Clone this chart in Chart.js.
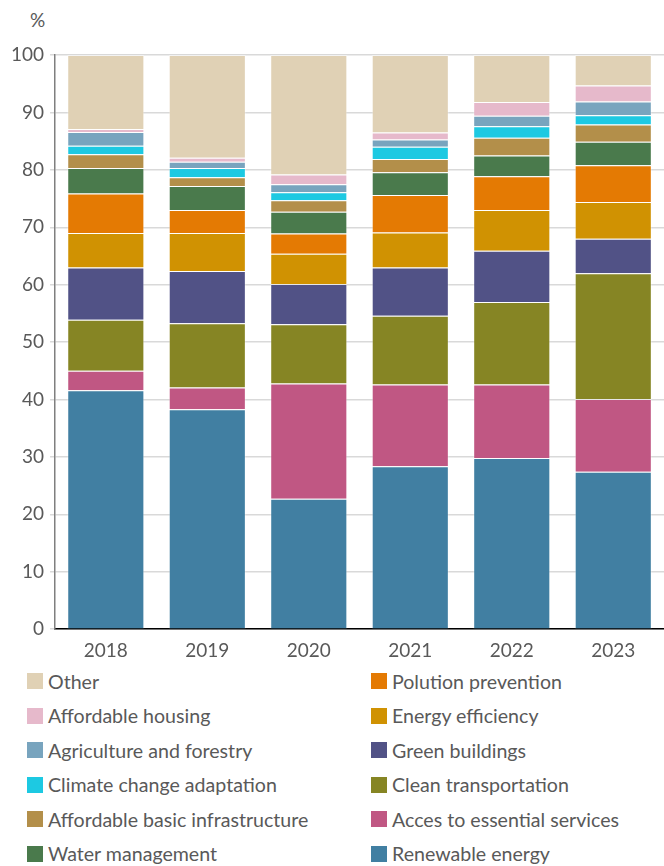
<!DOCTYPE html>
<html>
<head>
<meta charset="utf-8">
<script src="https://cdn.jsdelivr.net/npm/chart.js@4.4.1/dist/chart.umd.min.js"></script>
<style>
  body { margin: 0; background: #fff; font-family: Lato, "Open Sans", sans-serif; color: #595959; }
  #wrap { position: relative; width: 664px; height: 866px; overflow: hidden; }
  #chartBox { position: absolute; left: 0; top: 0; width: 664px; height: 664px; }
  #unit { position: absolute; left: 30px; top: 8px; font-size: 19px; }
  #legend { position: absolute; left: 27px; top: 664px; width: 637px; display: grid;
    grid-template-columns: 344px 293px; grid-auto-flow: column; grid-template-rows: repeat(6, 34.5px); }
  .item { display: flex; align-items: center; font-size: 19.6px; white-space: nowrap; }
  .box { width: 16px; height: 16px; margin-right: 5px; flex: none; }
</style>
</head>
<body>
<div id="wrap">
  <div id="unit">%</div>
  <div id="chartBox"><canvas id="c"></canvas></div>
  <div id="legend"></div>
</div>
<script>
const years = ['2018', '2019', '2020', '2021', '2022', '2023'];

// shares in %, bottom of the stack first
const renewable = [41.6, 38.3, 22.7, 28.4, 29.8, 27.4];
const essential = [3.4, 3.8, 20.1, 14.2, 12.8, 12.7];
const transport = [8.9, 11.2, 10.3, 12.0, 14.4, 21.9];
const buildings = [9.1, 9.1, 7.0, 8.4, 8.9, 6.0];
const efficiency = [6.0, 6.6, 5.3, 6.1, 7.1, 6.4];
const pollution = [6.9, 4.0, 3.5, 6.5, 5.9, 6.4];
const water = [4.4, 4.2, 3.8, 4.0, 3.6, 4.1];
const infra = [2.4, 1.5, 2.0, 2.3, 3.1, 3.0];
const climate = [1.5, 1.6, 1.4, 2.1, 2.0, 1.6];
const agriculture = [2.4, 1.1, 1.4, 1.3, 1.8, 2.4];
const housing = [0.5, 0.7, 1.7, 1.2, 2.4, 2.8];
const other = [12.9, 17.9, 20.8, 13.5, 8.2, 5.3];

const yTicks = [0, 10, 20, 30, 40, 50, 60, 70, 80, 90, 100];

const series = [
  { label: 'Renewable energy', data: renewable, color: '#417fa2' },
  { label: 'Acces to essential services', data: essential, color: '#c05783' },
  { label: 'Clean transportation', data: transport, color: '#868524' },
  { label: 'Green buildings', data: buildings, color: '#515286' },
  { label: 'Energy efficiency', data: efficiency, color: '#d09202' },
  { label: 'Polution prevention', data: pollution, color: '#e47a03' },
  { label: 'Water management', data: water, color: '#4a7a4c' },
  { label: 'Affordable basic infrastructure', data: infra, color: '#b38f4a' },
  { label: 'Climate change adaptation', data: climate, color: '#1dc9e2' },
  { label: 'Agriculture and forestry', data: agriculture, color: '#78a4be' },
  { label: 'Affordable housing', data: housing, color: '#e6b9cb' },
  { label: 'Other', data: other, color: '#e0d1b5' }
];

const fontFam = 'Lato, "Open Sans", sans-serif';

new Chart(document.getElementById('c'), {
  type: 'bar',
  data: {
    labels: years,
    datasets: series.map(s => ({
      label: s.label,
      data: s.data,
      backgroundColor: s.color,
      borderColor: 'rgba(255,255,255,0.35)',
      borderWidth: 1,
      barPercentage: 0.76,
      categoryPercentage: 1
    }))
  },
  options: {
    responsive: true,
    maintainAspectRatio: false,
    animation: false,
    layout: { padding: { top: 55, right: 0, left: 5, bottom: 0 } },
    plugins: { legend: { display: false }, tooltip: { enabled: false } },
    scales: {
      x: {
        stacked: true,
        grid: { display: false },
        border: { color: '#000', width: 1.5 },
        ticks: { color: '#595959', font: { family: fontFam, size: 19 }, padding: 2 }
      },
      y: {
        stacked: true,
        min: 0,
        max: 100,
        afterBuildTicks: axis => { axis.ticks = yTicks.map(v => ({ value: v })); },
        grid: { color: '#d9d9d9', lineWidth: 1.5, tickLength: 5 },
        border: { color: '#7f7f7f', width: 1.5 },
        ticks: { color: '#595959', font: { family: fontFam, size: 19 }, padding: 6 }
      }
    }
  }
});

// legend: two columns, top of the stack first
const legend = document.getElementById('legend');
series.slice().reverse().forEach(s => {
  const item = document.createElement('div');
  item.className = 'item';
  item.innerHTML = '<span class="box" style="background:' + s.color + '"></span>' + s.label;
  legend.appendChild(item);
});
</script>
</body>
</html>
